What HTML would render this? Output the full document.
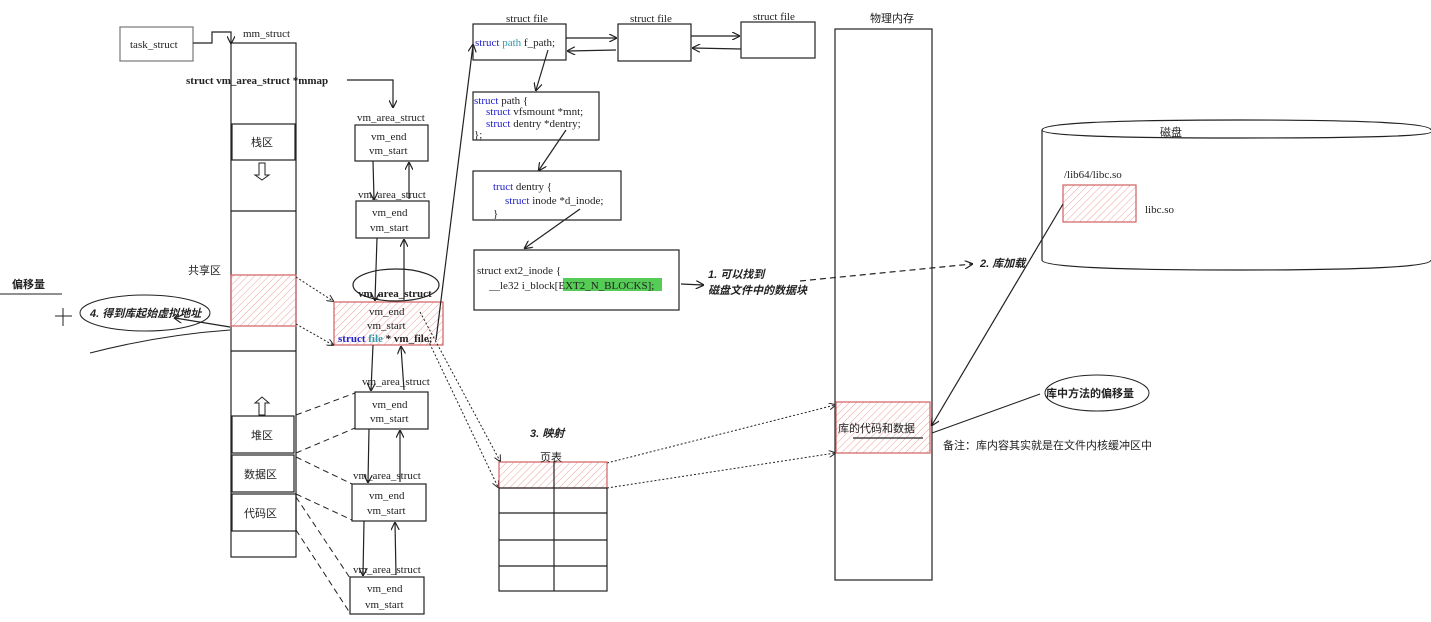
<!DOCTYPE html>
<html><head><meta charset="utf-8"><style>
body{margin:0;background:#fff;}
svg{display:block;}
text{font-family:"Liberation Serif","Noto Serif CJK SC",serif;font-size:11px;fill:#222;}
.cn{font-family:"Liberation Sans","Noto Sans CJK SC",sans-serif;}
.b{font-weight:bold;font-style:italic;font-family:"Liberation Sans","Noto Sans CJK SC",sans-serif;}
</style></head><body>
<svg width="1431" height="622" viewBox="0 0 1431 622" xmlns="http://www.w3.org/2000/svg">
<defs>
<pattern id="h" patternUnits="userSpaceOnUse" width="5" height="5" patternTransform="rotate(45)"><line x1="0" y1="0" x2="0" y2="5" stroke="#f0a0a0" stroke-width="1"/></pattern>
<marker id="a" markerWidth="7" markerHeight="7" refX="6" refY="3.5" orient="auto"><path d="M0,0 L7,3.5 L0,7" fill="none" stroke="#222"/></marker>
</defs>
<g fill="none" stroke="#222" stroke-width="1.2">
<!-- task_struct -->
<rect x="120" y="27" width="73" height="34" stroke="#777"/>
<path d="M193,43 H212 V32 H231 V43" marker-end="url(#a)"/>
<!-- mm column -->
<rect x="231" y="43" width="65" height="514"/>
<rect x="232" y="124" width="63" height="36"/>
<line x1="231" y1="211" x2="296" y2="211"/>
<rect x="231" y="275" width="65" height="51" fill="url(#h)" stroke="#d06060"/>
<line x1="231" y1="351" x2="296" y2="351"/>
<rect x="232" y="416" width="62" height="37"/>
<rect x="232" y="455" width="62" height="37"/>
<rect x="232" y="494" width="64" height="37"/>
<path d="M259,163 V175 H255 L262,180 L269,175 H265 V163 Z" stroke-width="1"/>
<path d="M259,415 V403 H255 L262,397 L269,403 H265 V415 Z" stroke-width="1"/>
<!-- mmap arrow -->
<path d="M347,80 H393 V107" marker-end="url(#a)"/>
<!-- vm boxes -->
<rect x="355" y="125" width="73" height="36"/>
<rect x="356" y="201" width="73" height="37"/>
<rect x="334" y="302" width="109" height="43" fill="url(#h)" stroke="#d06060"/>
<ellipse cx="396" cy="285" rx="43" ry="16"/>
<rect x="355" y="392" width="73" height="37"/>
<rect x="352" y="484" width="74" height="37"/>
<rect x="350" y="577" width="74" height="37"/>
<line x1="373" y1="161" x2="374" y2="199" marker-end="url(#a)"/>
<line x1="409" y1="199" x2="409" y2="163" marker-end="url(#a)"/>
<line x1="377" y1="238" x2="375" y2="300" marker-end="url(#a)"/>
<line x1="404" y1="300" x2="404" y2="240" marker-end="url(#a)"/>
<line x1="373" y1="345" x2="371" y2="390" marker-end="url(#a)"/>
<line x1="404" y1="390" x2="401" y2="347" marker-end="url(#a)"/>
<line x1="369" y1="429" x2="368" y2="482" marker-end="url(#a)"/>
<line x1="400" y1="482" x2="400" y2="431" marker-end="url(#a)"/>
<line x1="364" y1="521" x2="363" y2="575" marker-end="url(#a)"/>
<line x1="396" y1="575" x2="395" y2="523" marker-end="url(#a)"/>
<!-- dashed from regions -->
<g stroke-dasharray="6,4" stroke-width="1">
<line x1="296" y1="415" x2="355" y2="393"/>
<line x1="296" y1="453" x2="355" y2="428"/>
<line x1="296" y1="457" x2="352" y2="484"/>
<line x1="296" y1="494" x2="352" y2="520"/>
<line x1="296" y1="497" x2="350" y2="578"/>
<line x1="296" y1="530" x2="350" y2="613"/>
</g>
<g stroke-dasharray="2,2" stroke-width="1">
<line x1="296" y1="277" x2="333" y2="301" marker-end="url(#a)"/>
<line x1="296" y1="324" x2="333" y2="345" marker-end="url(#a)"/>
<line x1="420" y1="312" x2="500" y2="461" marker-end="url(#a)"/>
<line x1="428" y1="340" x2="498" y2="487" marker-end="url(#a)"/>
<line x1="607" y1="463" x2="835" y2="405" marker-end="url(#a)"/>
<line x1="607" y1="488" x2="835" y2="453" marker-end="url(#a)"/>
</g>
<line x1="436" y1="340" x2="473" y2="45" marker-end="url(#a)"/>
<!-- file boxes -->
<rect x="473" y="24" width="93" height="36"/>
<rect x="618" y="24" width="73" height="37"/>
<rect x="741" y="22" width="74" height="36"/>
<line x1="566" y1="38" x2="616" y2="38" marker-end="url(#a)"/>
<line x1="616" y1="50" x2="568" y2="51" marker-end="url(#a)"/>
<line x1="691" y1="36" x2="739" y2="36" marker-end="url(#a)"/>
<line x1="741" y1="49" x2="693" y2="48" marker-end="url(#a)"/>
<line x1="548" y1="50" x2="536" y2="90" marker-end="url(#a)"/>
<rect x="473" y="92" width="126" height="48"/>
<line x1="566" y1="130" x2="539" y2="170" marker-end="url(#a)"/>
<rect x="473" y="171" width="148" height="49"/>
<line x1="580" y1="209" x2="525" y2="248" marker-end="url(#a)"/>
<rect x="474" y="250" width="205" height="60"/>
<line x1="681" y1="284" x2="703" y2="285" marker-end="url(#a)"/>
<!-- physical memory -->
<rect x="835" y="29" width="97" height="551"/>
<rect x="836" y="402" width="94" height="51" fill="url(#h)" stroke="#d06060"/>
<line x1="853" y1="438" x2="923" y2="438"/>
<!-- disk -->
<path d="M1042,130 V260 Q1042,270 1240,270 Q1431,270 1431,260"/>
<path d="M1042,130 Q1042,120 1240,120 Q1431,120 1431,130"/>
<path d="M1042,130 Q1042,138 1240,138 Q1431,138 1431,132"/>
<rect x="1063" y="185" width="73" height="37" fill="url(#h)" stroke="#d06060"/>
<line x1="1063" y1="204" x2="932" y2="425" marker-end="url(#a)"/>
<line x1="932" y1="433" x2="1040" y2="394" stroke-width="1"/>
<ellipse cx="1097" cy="393" rx="52" ry="18" stroke-width="1"/>
<line x1="800" y1="281" x2="972" y2="264" stroke-dasharray="6,4" marker-end="url(#a)"/>
<!-- page table -->
<rect x="499" y="462" width="108" height="26" fill="url(#h)" stroke="#d06060"/>
<rect x="499" y="488" width="108" height="103"/>
<line x1="554" y1="462" x2="554" y2="591"/>
<line x1="499" y1="513" x2="607" y2="513"/>
<line x1="499" y1="540" x2="607" y2="540"/>
<line x1="499" y1="566" x2="607" y2="566"/>
<!-- left annotations -->
<line x1="0" y1="294" x2="62" y2="294" stroke-width="1"/>
<path d="M55,316 H72 M63,308 V326" stroke-width="1"/>
<ellipse cx="145" cy="313" rx="65" ry="18" stroke-width="1"/>
<line x1="230" y1="327" x2="175" y2="318" marker-end="url(#a)"/>
<path d="M90,353 Q160,335 230,330" stroke-width="1"/>
</g>
<!-- texts -->
<text x="130" y="48" fill="#666">task_struct</text>
<text x="243" y="37">mm_struct</text>
<text x="186" y="84" font-weight="bold">struct vm_area_struct *mmap</text>
<text x="357" y="121">vm_area_struct</text>
<text x="371" y="140">vm_end</text><text x="369" y="154">vm_start</text>
<text x="358" y="198">vm_area_struct</text>
<text x="372" y="216">vm_end</text><text x="370" y="231">vm_start</text>
<text x="358" y="297" font-weight="bold">vm_area_struct</text>
<text x="369" y="315">vm_end</text><text x="367" y="329">vm_start</text>
<text x="338" y="342" font-weight="bold"><tspan fill="#22c">struct </tspan><tspan fill="#39a">file</tspan> * vm_file;</text>
<text x="362" y="385">vm_area_struct</text>
<text x="372" y="408">vm_end</text><text x="370" y="422">vm_start</text>
<text x="353" y="479">vm_area_struct</text>
<text x="369" y="499">vm_end</text><text x="367" y="514">vm_start</text>
<text x="353" y="573">vm_area_struct</text>
<text x="367" y="592">vm_end</text><text x="365" y="608">vm_start</text>
<text class="cn" x="251" y="146" font-size="12">栈区</text>
<text class="cn" x="188" y="274" font-size="12">共享区</text>
<text class="cn" x="251" y="439" font-size="12">堆区</text>
<text class="cn" x="244" y="478" font-size="12">数据区</text>
<text class="cn" x="244" y="517" font-size="12">代码区</text>
<text x="506" y="22">struct file</text>
<text x="630" y="22">struct file</text>
<text x="753" y="20">struct file</text>
<text x="475" y="46"><tspan fill="#22c">struct </tspan><tspan fill="#39a">path</tspan> f_path;</text>
<text x="474" y="104"><tspan fill="#22c">struct</tspan> path {</text>
<text x="486" y="115"><tspan fill="#22c">struct</tspan> vfsmount *mnt;</text>
<text x="486" y="127"><tspan fill="#22c">struct</tspan> dentry *dentry;</text>
<text x="474" y="138">};</text>
<text x="493" y="190"><tspan fill="#22c">truct</tspan> dentry {</text>
<text x="505" y="204"><tspan fill="#22c">struct</tspan> inode *d_inode;</text>
<text x="493" y="217" fill="#2a2">}</text>
<text x="477" y="274">struct ext2_inode {</text>
<rect x="563" y="278" width="99" height="13" fill="#5c5"/>
<text x="489" y="289">__le32  i_block[EXT2_N_BLOCKS];</text>
<text class="b" x="708" y="278" font-size="11">1. 可以找到</text>
<text class="b" x="708" y="294" font-size="11">磁盘文件中的数据块</text>
<text class="cn" x="870" y="22" font-size="11">物理内存</text>
<text class="cn" x="838" y="432" font-size="12">库的代码和数据</text>
<text class="cn" x="1160" y="136" font-size="11">磁盘</text>
<text x="1064" y="178">/lib64/libc.so</text>
<text x="1145" y="213">libc.so</text>
<text class="b" x="980" y="267" font-size="11">2. 库加载</text>
<text class="cn" x="1046" y="397" font-size="12" font-weight="bold">库中方法的偏移量</text>
<text class="cn" x="943" y="449" font-size="11">备注：库内容其实就是在文件内核缓冲区中</text>
<text class="b" x="530" y="437" font-size="11">3. 映射</text>
<text class="cn" x="540" y="461" font-size="12">页表</text>
<text class="cn" x="12" y="288" font-size="12" font-weight="bold">偏移量</text>
<text class="b" x="90" y="317" font-size="12">4. 得到库起始虚拟地址</text>
</svg>
</body></html>
